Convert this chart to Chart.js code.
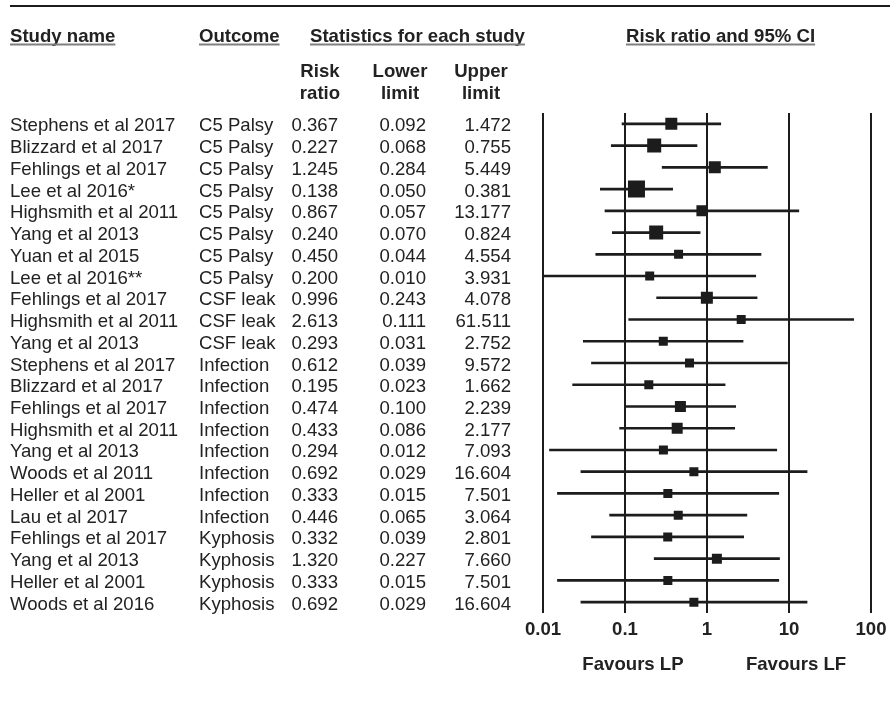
<!DOCTYPE html>
<html>
<head>
<meta charset="utf-8">
<script src="https://cdn.jsdelivr.net/npm/chart.js@4.4.1/dist/chart.umd.min.js"></script>
<style>
  html, body { margin: 0; padding: 0; background: #ffffff; }
  #wrap { width: 890px; height: 703px; position: relative; }
</style>
</head>
<body>
<div id="wrap"><canvas id="c" width="890" height="703"></canvas></div>
<script>
const studies = [
  "Stephens et al 2017", "Blizzard et al 2017", "Fehlings et al 2017", "Lee et al 2016*",
  "Highsmith et al 2011", "Yang et al 2013", "Yuan et al 2015", "Lee et al 2016**",
  "Fehlings et al 2017", "Highsmith et al 2011", "Yang et al 2013",
  "Stephens et al 2017", "Blizzard et al 2017", "Fehlings et al 2017", "Highsmith et al 2011",
  "Yang et al 2013", "Woods et al 2011", "Heller et al 2001", "Lau et al 2017",
  "Fehlings et al 2017", "Yang et al 2013", "Heller et al 2001", "Woods et al 2016"
];
const outcomes = [
  "C5 Palsy", "C5 Palsy", "C5 Palsy", "C5 Palsy", "C5 Palsy", "C5 Palsy", "C5 Palsy", "C5 Palsy",
  "CSF leak", "CSF leak", "CSF leak",
  "Infection", "Infection", "Infection", "Infection", "Infection", "Infection", "Infection", "Infection",
  "Kyphosis", "Kyphosis", "Kyphosis", "Kyphosis"
];
const riskRatio = [0.367, 0.227, 1.245, 0.138, 0.867, 0.240, 0.450, 0.200,
  0.996, 2.613, 0.293,
  0.612, 0.195, 0.474, 0.433, 0.294, 0.692, 0.333, 0.446,
  0.332, 1.320, 0.333, 0.692];
const lowerLimit = [0.092, 0.068, 0.284, 0.050, 0.057, 0.070, 0.044, 0.010,
  0.243, 0.111, 0.031,
  0.039, 0.023, 0.100, 0.086, 0.012, 0.029, 0.015, 0.065,
  0.039, 0.227, 0.015, 0.029];
const upperLimit = [1.472, 0.755, 5.449, 0.381, 13.177, 0.824, 4.554, 3.931,
  4.078, 61.511, 2.752,
  9.572, 1.662, 2.239, 2.177, 7.093, 16.604, 7.501, 3.064,
  2.801, 7.660, 7.501, 16.604];
// relative study weights (shown as marker size)
const weights = [12, 14, 12, 17, 11, 14, 9, 9, 12, 9, 9, 9, 9, 11, 11, 9, 9, 9, 9, 9, 10, 9, 9];
const xTicks = [0.01, 0.1, 1, 10, 100];
const xTickLabels = ["0.01", "0.1", "1", "10", "100"];

const INK = "#1c1c1c";
const TXT = "#222222";
const FONT = '"Liberation Sans", Arial, Helvetica, sans-serif';
const FS = 18.6;

const rowLabels = studies.map((s, i) => s + " | " + outcomes[i]);

const tablePlugin = {
  id: "tablePlugin",
  afterDraw(chart) {
    const ctx = chart.ctx;
    const ys = chart.scales.y;
    const xs = chart.scales.x;
    ctx.save();
    // top rule
    ctx.fillStyle = INK;
    ctx.fillRect(10, 5, 880, 2);

    // headers
    ctx.font = "bold " + FS + "px " + FONT;
    ctx.fillStyle = TXT;
    ctx.textBaseline = "alphabetic";
    const headers = [
      { t: "Study name", x: 10 },
      { t: "Outcome", x: 199 },
      { t: "Statistics for each study", x: 310 },
      { t: "Risk ratio and 95% CI", x: 626 }
    ];
    headers.forEach(h => {
      ctx.textAlign = "left";
      ctx.fillStyle = TXT;
      ctx.fillText(h.t, h.x, 42);
      const w = ctx.measureText(h.t).width;
      ctx.fillStyle = "#808080";
      ctx.fillRect(h.x, 43.5, w, 2);
    });

    // sub headers
    ctx.fillStyle = TXT;
    ctx.textAlign = "center";
    const sub = [
      { a: "Risk", b: "ratio", x: 320 },
      { a: "Lower", b: "limit", x: 400 },
      { a: "Upper", b: "limit", x: 481 }
    ];
    sub.forEach(s => {
      ctx.fillText(s.a, s.x, 77);
      ctx.fillText(s.b, s.x, 99);
    });

    // rows
    ctx.font = FS + "px " + FONT;
    for (let i = 0; i < studies.length; i++) {
      const y = ys.getPixelForValue(i) + 7.5;
      ctx.textAlign = "left";
      ctx.fillText(studies[i], 10, y);
      ctx.fillText(outcomes[i], 199, y);
      ctx.textAlign = "right";
      ctx.fillText(riskRatio[i].toFixed(3), 338, y);
      ctx.fillText(lowerLimit[i].toFixed(3), 426, y);
      ctx.fillText(upperLimit[i].toFixed(3), 511, y);
    }

    // favours labels
    ctx.font = "bold " + FS + "px " + FONT;
    ctx.textAlign = "center";
    ctx.fillText("Favours LP", xs.getPixelForValue(0.1) + 8, 670);
    ctx.fillText("Favours LF", xs.getPixelForValue(10) + 7, 670);
    ctx.restore();
  }
};

new Chart(document.getElementById("c"), {
  type: "bar",
  data: {
    labels: rowLabels,
    datasets: [
      {
        type: "bar",
        indexAxis: "y",
        data: lowerLimit.map((l, i) => [l, upperLimit[i]]),
        backgroundColor: INK,
        borderWidth: 0,
        barThickness: 2,
        order: 2
      },
      {
        type: "line",
        indexAxis: "y",
        data: riskRatio,
        showLine: false,
        pointStyle: "rect",
        pointRadius: weights.map(w => w / Math.SQRT2),
        pointHoverRadius: weights.map(w => w / Math.SQRT2),
        pointBackgroundColor: INK,
        pointBorderWidth: 0,
        order: 1
      }
    ]
  },
  options: {
    indexAxis: "y",
    responsive: false,
    animation: false,
    events: [],
    layout: { padding: { left: 543, right: 19, top: 113, bottom: 30 } },
    plugins: { legend: { display: false }, tooltip: { enabled: false } },
    scales: {
      x: {
        type: "logarithmic",
        min: 0.01,
        max: 100,
        position: "bottom",
        afterBuildTicks: s => { s.ticks = xTicks.map(v => ({ value: v })); },
        afterFit: s => { s.height = 60; s.paddingLeft = 0; s.paddingRight = 0; },
        ticks: {
          autoSkip: false,
          maxRotation: 0,
          padding: 6,
          color: TXT,
          font: { family: FONT, size: FS, weight: "bold" },
          callback: (v) => { const k = xTicks.indexOf(v); return k >= 0 ? xTickLabels[k] : ""; }
        },
        grid: { color: INK, lineWidth: 2, drawTicks: false },
        border: { display: false }
      },
      y: {
        type: "category",
        offset: true,
        display: false
      }
    }
  },
  plugins: [tablePlugin]
});
</script>
</body>
</html>
